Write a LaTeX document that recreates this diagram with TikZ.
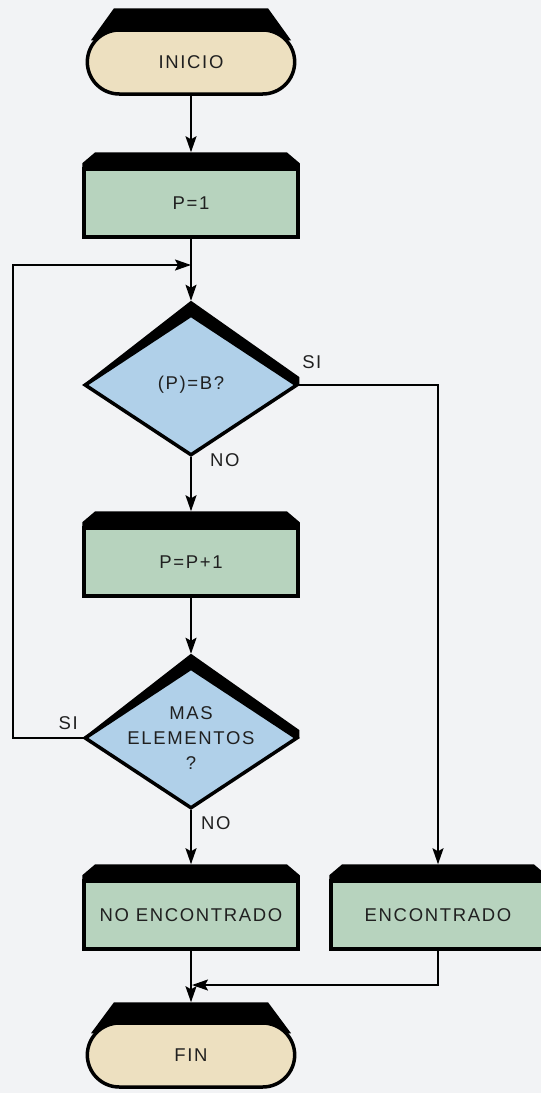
\documentclass[tikz,border=0pt]{standalone}
\usepackage{fontspec}
\setmainfont{Liberation Sans}[LetterSpace=9]
\usetikzlibrary{shapes.geometric,shapes.misc,arrows.meta,backgrounds}
\definecolor{pagebg}{RGB}{242,243,245}
\definecolor{termfill}{RGB}{237,224,192}
\definecolor{procfill}{RGB}{183,211,190}
\definecolor{decfill}{RGB}{176,208,233}
\definecolor{inktext}{RGB}{32,32,32}

\begin{document}
\begin{tikzpicture}[x=1pt,y=-1pt,
    every node/.style={font=\fontsize{18.5}{25}\selectfont, text=inktext},
    terminal/.style={rounded rectangle, draw, line width=3.5pt, fill=termfill, minimum width=214pt, minimum height=64pt},
    process/.style={rectangle, draw, line width=3.5pt, fill=procfill, minimum width=214pt, minimum height=68pt},
    decision/.style={diamond, aspect=1.5, draw, line width=3.5pt, fill=decfill, minimum width=213pt, minimum height=141pt, inner sep=-10pt, align=center},
    flow/.style={line width=2pt, -{Stealth[length=16pt,width=11pt,inset=3pt]}},
    lbl/.style={inner sep=0pt}]
\useasboundingbox (0,0) rectangle (541,1093);
\clip (0,0) rectangle (541,1093);

\node[terminal] (inicio) at (191,62) {INICIO};
\node[process] (pone) at (191,203) {P=1};
\node[decision] (dque) at (191,385) {(P)=B?};
\node[process] (ppp) at (191,562) {P=P+1};
\node[decision] (dmas) at (191,738) {MAS\\ELEMENTOS\\?};
\node[process] (noenc) at (191,915) {NO ENCONTRADO};
\node[process] (enc) at (438,915) {ENCONTRADO};
\node[terminal] (fin) at (191,1055) {FIN};

\coordinate (jloop) at (191,265);
\coordinate (jfin) at (192,985);

\draw[flow] (inicio.south) -- ([yshift=15pt]pone.north);
\draw[flow] (pone.south) -- ([yshift=12pt]dque.north);
\draw[flow] (dque.south) node[lbl, anchor=west, xshift=18pt, yshift=-3pt] (lnoa) {NO} -- ([yshift=15pt]ppp.north);
\draw[flow] (dque.east) node[lbl, anchor=south west, xshift=2pt, yshift=15pt] (lsia) {SI} -| ([yshift=15pt]enc.north);
\draw[flow] (ppp.south) -- ([yshift=12pt]dmas.north);
\draw[flow] (dmas.west) node[lbl, anchor=south east, xshift=-4pt, yshift=7pt] (lsib) {SI} -- ++(-70,0) |- (jloop);
\draw[flow] (dmas.south) node[lbl, anchor=north west, xshift=9pt, yshift=-5pt] (lnob) {NO} -- ([yshift=15pt]noenc.north);
\draw[flow] (noenc.south) -- ([yshift=19pt]fin.north);
\draw[flow] (enc.south) |- (jfin);

\begin{pgfonlayer}{background}
\clip (0,0) rectangle (541,1093);
\fill[pagebg] (0,0) rectangle (541,1093);
\foreach \n in {pone,ppp,noenc,enc}
  \fill ([yshift=-3pt]\n.north west) -- ([yshift=4pt]\n.north west) -- ([xshift=13pt,yshift=15pt]\n.north west)
    -- ([xshift=-13pt,yshift=15pt]\n.north east) -- ([yshift=4pt]\n.north east) -- ([yshift=-3pt]\n.north east) -- cycle;
\fill ([xshift=-77pt,yshift=20pt]inicio.north) -- ([xshift=77pt,yshift=20pt]inicio.north)
  -- ([xshift=100pt,yshift=-12pt]inicio.north) -- ([xshift=-100pt,yshift=-12pt]inicio.north) -- cycle;
\fill ([xshift=-77pt,yshift=19pt]fin.north) -- ([xshift=77pt,yshift=19pt]fin.north)
  -- ([xshift=100pt,yshift=-12pt]fin.north) -- ([xshift=-100pt,yshift=-12pt]fin.north) -- cycle;
\foreach \n in {dque,dmas}
  \fill (\n.west) -- ([yshift=12pt]\n.north) -- ([yshift=8pt]\n.east) -- (\n.east) -- (\n.center) -- cycle;
\end{pgfonlayer}
\end{tikzpicture}
\end{document}
